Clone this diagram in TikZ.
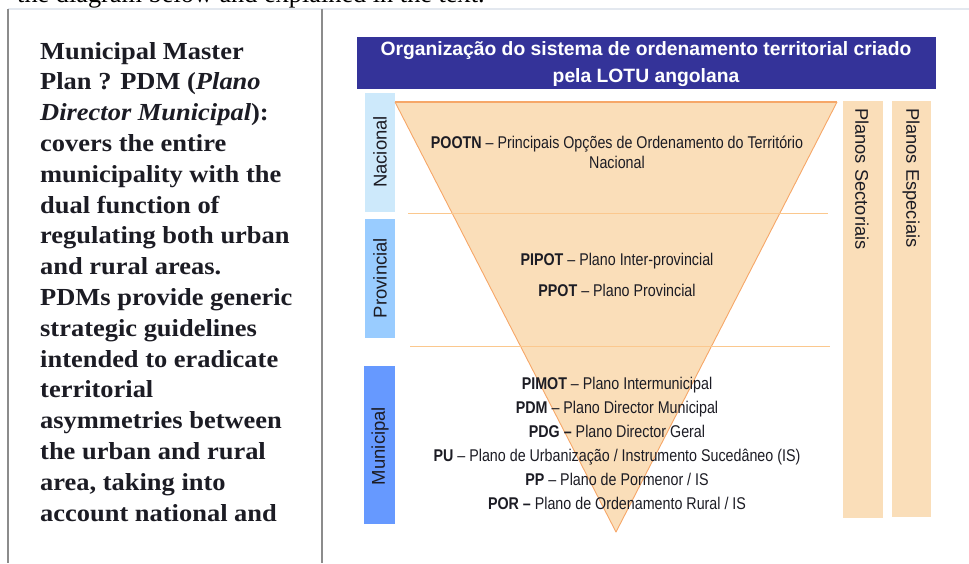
\documentclass[tikz,border=0pt]{standalone}
\usepackage{fontspec}
\setmainfont{Liberation Serif}
\newfontfamily\bodybold[FakeStretch=1.08]{Liberation Serif}
\newfontfamily\narrowsans[FakeStretch=0.84]{Liberation Sans}
\newfontfamily\plainsans{Liberation Sans}
\definecolor{titleblue}{HTML}{343399}
\definecolor{lvlnac}{HTML}{CDE9FB}
\definecolor{lvlprov}{HTML}{99CCFF}
\definecolor{lvlmun}{HTML}{6699FF}
\definecolor{peach}{HTML}{FADEB9}
\definecolor{edgeorange}{HTML}{F6A768}
\definecolor{divorange}{HTML}{FBC88E}
\definecolor{framegray}{HTML}{8C8C8C}
\definecolor{rulegray}{HTML}{E3E8EF}
\definecolor{inktext}{HTML}{1C1C24}
\tikzset{
  levellabel/.style={font=\plainsans\fontsize{18.5}{18.5}\selectfont, text=inktext, rotate=90, inner sep=0pt},
  sidelabel/.style={font=\plainsans\fontsize{18.3}{18.3}\selectfont, text=inktext, rotate=-90, inner sep=0pt, anchor=west},
  planline/.style={font=\narrowsans\fontsize{17}{20}\selectfont, text=inktext, inner sep=0pt, anchor=base},
  divider/.style={draw=divorange, line width=1pt},
}
\begin{document}
\begin{tikzpicture}[x=1pt, y=-1pt]
\useasboundingbox (0,0) rectangle (969,563);
\clip (0,0) rectangle (969,563);

% running text cut off at the top of the page
\node[anchor=base west, inner sep=0pt, font=\fontsize{26.3}{26.3}\selectfont] (runtext) at (17,2.5) {the diagram below and explained in the text.};

% table frame
\draw[rulegray, line width=1.5pt] (8,9) -- (969,9);
\draw[framegray, line width=1.2pt] (8,9) -- (8,563);
\draw[framegray, line width=1.2pt] (322,9) -- (322,563);

% left column text (anchored on the baseline of its last line)
\node[anchor=base west, inner sep=0pt, align=left, text=inktext,
      font=\bodybold\bfseries\fontsize{24.5}{30.8}\selectfont] (pdmtext) at (40,521)
  {Municipal Master\\
   Plan ? PDM (\textit{Plano}\\
   \textit{Director Municipal}):\\
   covers the entire\\
   municipality with the\\
   dual function of\\
   regulating both urban\\
   and rural areas.\\
   PDMs provide generic\\
   strategic guidelines\\
   intended to eradicate\\
   territorial\\
   asymmetries between\\
   the urban and rural\\
   area, taking into\\
   account national and};

% title banner
\fill[titleblue] (357,37) rectangle (936,89);
\node[anchor=base, align=center, text=white, inner sep=0pt, font=\plainsans\bfseries\fontsize{19.3}{27}\selectfont] (title) at (646,82)
  {Organização do sistema de ordenamento territorial criado\\pela LOTU angolana};

% administrative levels
\fill[lvlnac] (365,93) rectangle (395,212);
\fill[lvlprov] (365,219) rectangle (395,338);
\fill[lvlmun] (364,366) rectangle (395,524);
\node[levellabel] (nac) at (380,152) {Nacional};
\node[levellabel] (prov) at (380,278) {Provincial};
\node[levellabel] (mun) at (380,446) {Municipal};

% sectoral and special plans
\fill[peach] (843,101) rectangle (883,518);
\fill[peach] (892,101) rectangle (931,517);
\node[sidelabel] (sect) at (862,108) {Planos Sectoriais};
\node[sidelabel] (esp) at (911,108) {Planos Especiais};

% inverted pyramid of plans
\fill[peach] (395,102) -- (837,102) -- (616,532) -- cycle;
\draw[edgeorange, line width=0.9pt, line join=round] (395,102) -- (616,532) -- (837,102);
\draw[edgeorange, line width=2pt] (395,102) -- (837,102);
\draw[divider] (408,213) -- (828,213);
\draw[divider] (410,346) -- (830,346);

% plans at each level
\node[planline, align=center] (pootn) at (617,168)
  {\textbf{POOTN} – Principais Opções de Ordenamento do Território\\Nacional};
\node[planline] (pipot) at (617,265) {\textbf{PIPOT} – Plano Inter-provincial};
\node[planline] (ppot) at (617,296) {\textbf{PPOT} – Plano Provincial};
\node[planline] (pimot) at (617,389) {\textbf{PIMOT} – Plano Intermunicipal};
\node[planline] (pdm) at (617,413) {\textbf{PDM} – Plano Director Municipal};
\node[planline] (pdg) at (617,437) {\textbf{PDG –} Plano Director Geral};
\node[planline] (pu) at (617,461) {\textbf{PU} – Plano de Urbanização / Instrumento Sucedâneo (IS)};
\node[planline] (pp) at (617,485) {\textbf{PP} – Plano de Pormenor / IS};
\node[planline] (por) at (617,509) {\textbf{POR –} Plano de Ordenamento Rural / IS};
\end{tikzpicture}
\end{document}
